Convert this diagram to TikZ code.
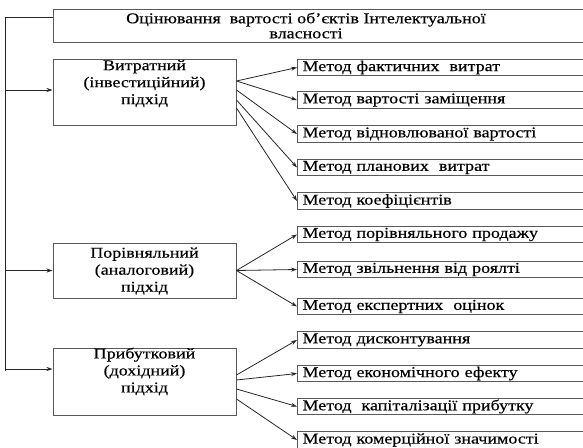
\documentclass[tikz,border=0pt]{standalone}
\usepackage{fontspec}
\setmainfont{Liberation Serif}[FakeStretch=1.2,FakeBold=0.4]
\usetikzlibrary{arrows.meta,positioning}

\begin{document}
\begin{tikzpicture}[x=1pt,y=-1pt,>={Stealth[length=6pt,width=4pt]},
  box/.style={draw=black!65,line width=1pt,inner sep=0pt},
  approach/.style={box,minimum width=183pt},
  method/.style={box,anchor=west,minimum width=310pt,minimum height=16.5pt,
    text width=300pt,align=left,inner xsep=5pt,font=\fontsize{15}{17}\selectfont},
  txt/.style={align=center,inner sep=0pt,font=\fontsize{15}{17}\selectfont},
  arr/.style={->,draw=black!85,line width=0.8pt}]
\useasboundingbox (0,0) rectangle (583,447);
\clip (0,0) rectangle (583,447);
% title
\node[box,anchor=north west,minimum width=560pt,minimum height=33pt] (title) at (53,9) {};
\node[txt,font=\fontsize{15}{15}\selectfont] at (306,25.5)
  {Оцінювання\ \ вартості об'єктів Інтелектуальної\\власності};
% approaches
\node[approach,minimum height=66pt] (cost) at (144.5,92) {};
\node[txt] at (144.5,83.5) {Витратний\\(інвестиційний)\\підхід};
\node[approach,minimum height=55pt] (market) at (144.5,270.5) {};
\node[txt] at (144.5,271) {Порівняльний\\(аналоговий)\\підхід};
\node[approach,minimum height=67pt] (income) at (144.5,381.5) {};
\node[txt] at (144.5,371.5) {Прибутковий\\(дохідний)\\підхід};
% methods
\foreach \n/\y/\t in {m1/67.5/Метод фактичних\ \ витрат,
  m2/100/Метод вартості заміщення,
  m3/134/Метод відновлюваної вартості,
  m4/167.5/Метод планових\ \ витрат,
  m5/201/Метод коефіцієнтів,
  m6/234.5/Метод порівняльного продажу,
  m7/269.5/Метод звільнення від роялті,
  m8/306.5/Метод експертних\ \ оцінок,
  m9/340/Метод дисконтування,
  m10/373.5/Метод економічного ефекту,
  m11/406.5/Метод\ \ капіталізації прибутку,
  m12/440/Метод комерційної значимості}
  \node[method] (\n) at (297,\y) {\t};
% spine
\coordinate (spine) at (5,17);
\coordinate (spine end) at (5,371);
\draw[black!85,line width=0.8pt] (title.west |- spine) -- (spine) -- (spine end);
\draw[arr] ([yshift=2pt]cost.west -| spine) -- ([yshift=2pt]cost.west);
\draw[arr] (market.west -| spine) -- (market.west);
\draw[arr] ([yshift=12.5pt]income.west -| spine) -- ([yshift=12.5pt]income.west);
% approach to method
\foreach \m/\s in {m1/11,m2/11,m3/2,m4/-8,m5/-16}
  \draw[arr] ([yshift=\s pt]cost.east) -- (\m.west);
\foreach \m in {m6,m7,m8}
  \draw[arr] (market.east) -- (\m.west);
\foreach \m/\s in {m9/6.5,m10/1.5,m11/-7.5,m12/-17.5}
  \draw[arr] ([yshift=\s pt]income.east) -- (\m.west);
\end{tikzpicture}
\end{document}
